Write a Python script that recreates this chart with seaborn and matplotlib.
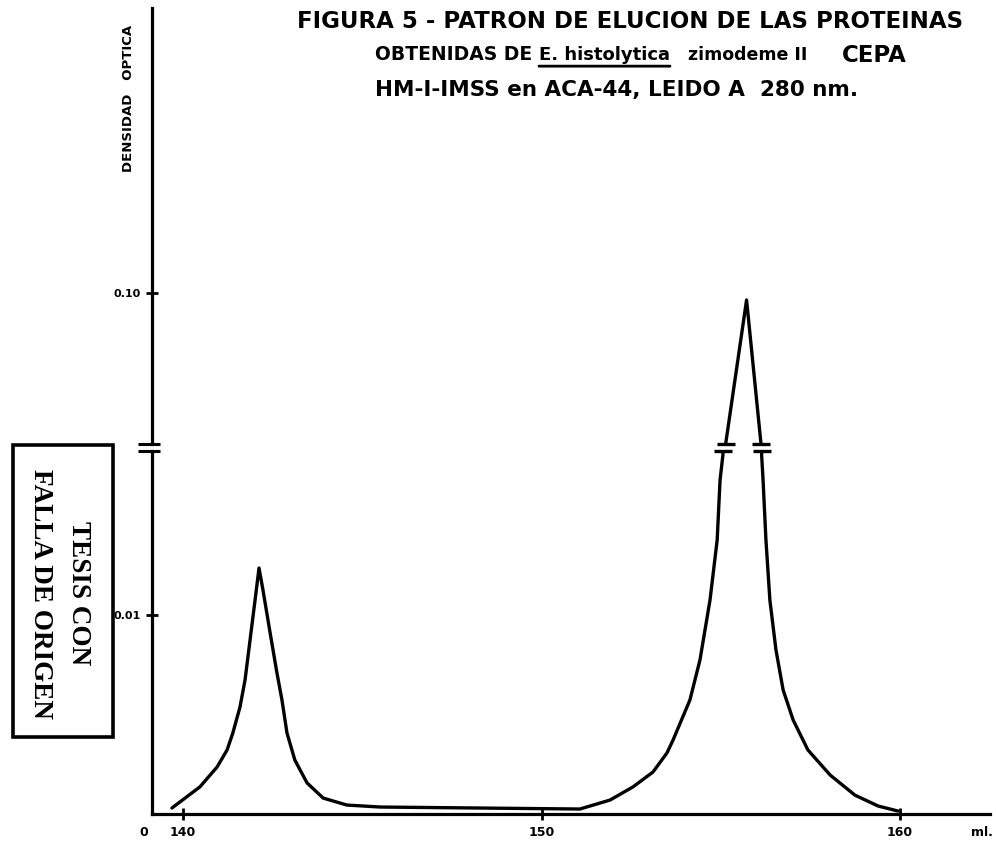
import numpy as np
import pandas as pd
import matplotlib
matplotlib.use("Agg")
import matplotlib.pyplot as plt
from matplotlib.patches import Rectangle
import seaborn as sns

# ---- data ----
ml = [139.69, 140.47, 140.95, 141.23, 141.39, 141.59, 141.73, 141.87, 142.01, 142.12,
      142.23, 142.43, 142.62, 142.76, 142.90, 143.12, 143.46, 143.91, 144.57, 145.50,
      148.28, 151.07, 151.91, 152.55, 153.11, 153.50, 153.67, 154.14, 154.42, 154.70,
      154.90, 154.98, 155.06, 155.14, 155.72, 156.12, 156.14, 156.18, 156.26, 156.37,
      156.54, 156.74, 157.02, 157.43, 158.05, 158.74, 159.39, 159.94]
densidad = [0.00030, 0.00136, 0.00236, 0.00322, 0.00407, 0.00538, 0.00673, 0.00874, 0.01075, 0.01236,
            0.01126, 0.00910, 0.00709, 0.00573, 0.00407, 0.00271, 0.00156, 0.00080, 0.00045, 0.00035,
            0.00030, 0.00025, 0.00070, 0.00136, 0.00211, 0.00307, 0.00372, 0.00573, 0.00774, 0.01075,
            0.01377, 0.01678, 0.01804, 0.05030, 0.09770, 0.05030, 0.01804, 0.01678, 0.01377, 0.01075,
            0.00824, 0.00623, 0.00472, 0.00322, 0.00196, 0.00095, 0.00040, 0.00015]
x_ticks = [140, 150, 160]
x_tick_labels = ["140", "150", "160"]
y_ticks_low = [0.01]
y_tick_labels_low = ["0.01"]
y_ticks_high = [0.10]
y_tick_labels_high = ["0.10"]

title_1 = "FIGURA 5 - PATRON DE ELUCION DE LAS PROTEINAS"
title_2a = "OBTENIDAS DE"
title_2b = "E. histolytica"
title_2c = "zimodeme II"
title_2d = "CEPA"
title_3 = "HM-I-IMSS en ACA-44, LEIDO A  280 nm."
y_label = "DENSIDAD   OPTICA"
stamp_1 = "TESIS CON"
stamp_2 = "FALLA DE ORIGEN"

df = pd.DataFrame({"ml": ml, "do": densidad})

sns.set_theme(style="white")
plt.rcParams["font.family"] = ["DejaVu Sans"]
plt.rcParams["text.color"] = "black"
plt.rcParams["axes.labelcolor"] = "black"
plt.rcParams["xtick.color"] = "black"
plt.rcParams["ytick.color"] = "black"

W, H = 996, 843
fig = plt.figure(figsize=(W / 100, H / 100), dpi=100)
fig.patch.set_facecolor("white")

def fx(px):
    return px / W

def fy(py):
    return 1 - py / H

left, right = 152, 990
ax_lo = fig.add_axes([fx(left), fy(814), fx(right) - fx(left), fy(451) - fy(814)])
ax_hi = fig.add_axes([fx(left), fy(444), fx(right) - fx(left), fy(8) - fy(444)])

xlim = (139.135, 162.51)
lo_lim = (0.0, 0.01824)
hi_lim = (0.05, 0.1944)

lw_curve = 2.4
lw_axis = 2.3
for ax in (ax_lo, ax_hi):
    sns.lineplot(data=df, x="ml", y="do", ax=ax, color="black", lw=lw_curve,
                 estimator=None, sort=False)
    ax.set_xlim(*xlim)
    ax.set_xlabel("")
    ax.set_ylabel("")
    ax.set_facecolor("none")
    for s in ("top", "right"):
        ax.spines[s].set_visible(False)
    ax.spines["left"].set_linewidth(lw_axis)
    ax.spines["left"].set_color("black")
    ax.spines["bottom"].set_linewidth(lw_axis)
    ax.spines["bottom"].set_color("black")
    ax.tick_params(direction="inout", length=8, width=2, color="black",
                   labelsize=9, labelcolor="black", left=True, bottom=True)

ax_lo.set_ylim(*lo_lim)
ax_hi.set_ylim(*hi_lim)
ax_hi.spines["bottom"].set_visible(False)
ax_hi.set_xticks([])
ax_lo.set_xticks(x_ticks, x_tick_labels, fontweight="bold")
ax_lo.tick_params(axis="x", pad=5)
ax_lo.set_yticks(y_ticks_low, y_tick_labels_low, fontweight="bold", fontsize=8)
ax_hi.set_yticks(y_ticks_high, y_tick_labels_high, fontweight="bold", fontsize=8)
ax_lo.tick_params(axis="y", pad=4)
ax_hi.tick_params(axis="y", pad=4)

# break marks on the y axis
wpx = right - left
for ax, yy in ((ax_lo, 1.0), (ax_hi, 0.0)):
    ax.plot([-14 / wpx, 8 / wpx], [yy, yy], transform=ax.transAxes, color="black",
            lw=2.2, clip_on=False, solid_capstyle="butt")

# break marks on the curve (where the second peak crosses the broken scale)
x_arr = np.array(ml)
y_arr = np.array(densidad)
ip = int(np.argmax(y_arr))
rise_x, rise_y = x_arr[:ip + 1][-4:], y_arr[:ip + 1][-4:]
fall_x, fall_y = x_arr[ip:][:4][::-1], y_arr[ip:][:4][::-1]
for ax, level in ((ax_lo, lo_lim[1]), (ax_hi, hi_lim[0])):
    xs = [np.interp(level, rise_y, rise_x), np.interp(level, fall_y, fall_x)]
    ax.plot(xs, [level, level], ls="none", marker="_", markersize=12.5, mew=2.4,
            color="black", clip_on=False)

# axis end labels
fig.text(fx(144), fy(833), "0", ha="center", va="center", fontsize=9, fontweight="bold")
fig.text(fx(982), fy(833), "ml.", ha="center", va="center", fontsize=9, fontweight="bold")

# y label
fig.text(fx(128), fy(98), y_label, rotation=90, ha="center", va="center",
         fontsize=9.5, fontweight="bold")

# title
tfont = dict(fontweight="bold", va="center", ha="left")
fig.text(fx(297), fy(22), title_1, fontsize=16.5, **tfont)
fig.text(fx(375), fy(55), title_2a, fontsize=13.5, **tfont)
t2b = fig.text(fx(539), fy(55), title_2b, fontsize=13, **tfont)
fig.text(fx(688), fy(55), title_2c, fontsize=12.5, **tfont)
fig.text(fx(842), fy(55), title_2d, fontsize=16.5, **tfont)
fig.text(fx(375), fy(90), title_3, fontsize=15.5, **tfont)
ax_hi.annotate("", xy=(1.0, -0.12), xycoords=t2b, xytext=(0.0, -0.12), textcoords=t2b,
               arrowprops=dict(arrowstyle="-", lw=2.0, color="black",
                               shrinkA=0, shrinkB=0))

# stamp
fig.patches.append(Rectangle((fx(13), fy(737)), fx(113) - fx(13), fy(445) - fy(737),
                             transform=fig.transFigure, fill=False, lw=2.6,
                             edgecolor="black"))
sfont = dict(family=["Liberation Serif", "DejaVu Serif"], fontweight="bold",
             fontsize=19.5, rotation=-90, ha="center", va="center")
fig.text(fx(78), fy(593), stamp_1, **sfont)
fig.text(fx(40), fy(594), stamp_2, **sfont)

fig.savefig("out.png", dpi=100, facecolor="white")
